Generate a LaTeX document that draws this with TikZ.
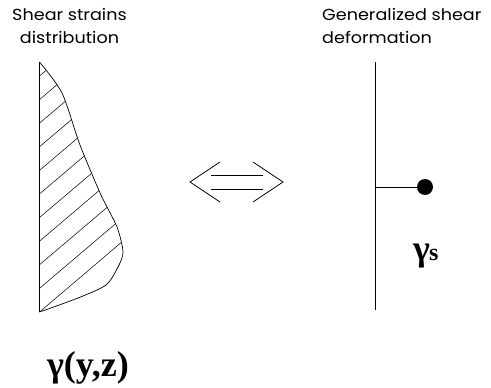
\documentclass[tikz,border=0pt]{standalone}
\usepackage{fontspec}
\setmainfont{Liberation Serif}
\newfontfamily\labelfont[FakeStretch=1.1]{Poppins}
\begin{document}
\begin{tikzpicture}[x=1pt,y=-1pt,
  lbl/.style={font=\labelfont\fontsize{16}{23}\selectfont, inner sep=0pt},
  ln/.style={line width=0.7pt},
  big/.style={font=\bfseries\fontsize{36}{40}\selectfont, inner sep=0pt}]
\useasboundingbox (0,0) rectangle (491,388);
% left profile
\def\prof{(39.5,62) (62,93) (80,145) (101,195) (117,227) (123,252) (118,267) (106,285) (78,298) (39.5,312)}
\begin{scope}
  \clip (39.5,312) -- plot[smooth,tension=0.45] coordinates {\prof} -- cycle;
  \foreach \k in {0,...,11} {
    \draw[line width=0.5pt] (39.5,{312-23.6*\k}) -- ++(120,-102);
  }
\end{scope}
\draw[ln] plot[smooth,tension=0.45] coordinates {\prof};
\draw[ln] (39.5,62) -- (39.5,312);
\node[lbl, align=center, anchor=base] (l1) at (69.5,43) {Shear strains\\distribution};
\node[big, anchor=base] (gyz) at (88,376) {γ(y,z)};
% double arrow
\coordinate (al) at (190,182);
\coordinate (ar) at (283,182);
\draw[ln] (220,162) -- (al) -- (220,202);
\draw[ln] (253,162) -- (ar) -- (253,202);
\draw[ln] (211,175) -- (263,175);
\draw[ln] (211,189) -- (263,189);
% right
\coordinate (vt) at (375,62);
\coordinate (vb) at (375,310);
\draw[ln] (vt) -- (vb);
\coordinate (hj) at (375,187);
\node[circle, fill=black, minimum size=16pt, inner sep=0pt] (dot) at (425,187) {};
\draw[ln] (hj) -- (dot);
\node[lbl, align=left, anchor=base west] (l2) at (322,43) {Generalized shear\\deformation};
\node[big, font=\bfseries\fontsize{36}{40}\selectfont, anchor=base west] (gs) at (413,260) {γ\hspace{-1pt}{\fontsize{24}{26}\selectfont s}};
\end{tikzpicture}
\end{document}
